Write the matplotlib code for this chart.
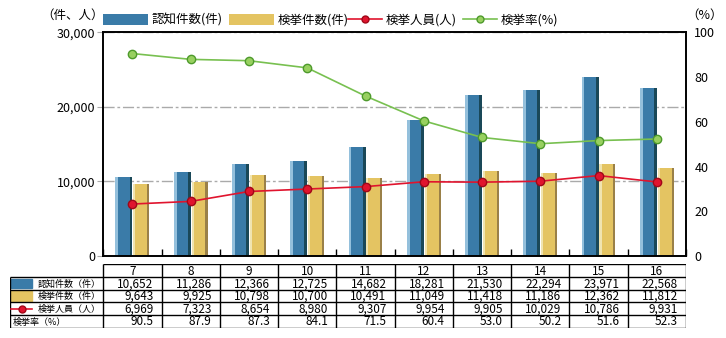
import numpy as np
import matplotlib
matplotlib.use('Agg')
import matplotlib.pyplot as plt
from matplotlib.patches import Patch, Rectangle
from matplotlib.lines import Line2D

plt.rcParams['font.family'] = ['Noto Sans CJK JP', 'DejaVu Sans']

# --- data ---
years = ['7', '8', '9', '10', '11', '12', '13', '14', '15', '16']
recognized = [10652, 11286, 12366, 12725, 14682, 18281, 21530, 22294, 23971, 22568]
cleared = [9643, 9925, 10798, 10700, 10491, 11049, 11418, 11186, 12362, 11812]
arrested = [6969, 7323, 8654, 8980, 9307, 9954, 9905, 10029, 10786, 9931]
clear_rate = [90.5, 87.9, 87.3, 84.1, 71.5, 60.4, 53.0, 50.2, 51.6, 52.3]

legend_labels = ['認知件数(件)', '検挙件数(件)', '検挙人員(人)', '検挙率(%)']
row_labels = ['認知件数（件）', '検挙件数（件）', '検挙人員（人）', '検挙率（%）']

BLUE = ('#94c0dc', '#3a7ba8', '#1a4858')
YELLOW = ('#f0e4b0', '#e4c462', '#9a8048')
RED, RED_EDGE = '#e0142e', '#a00818'
GREEN, GREEN_FACE, GREEN_EDGE = '#78c050', '#98d060', '#4e9a2c'

W, H = 726, 338
fig = plt.figure(figsize=(W / 100, H / 100), dpi=100)
ax = fig.add_axes([103.3 / W, 1 - 256 / H, (686 - 103.3) / W, (256 - 32.3) / H])
ax2 = ax.twinx()

x = np.arange(len(years)) + 0.5


def shaded_bar(axis, xc, vals, width, colors, edge):
    light, main, dark = colors
    axis.bar(xc, vals, width=width, color=main, zorder=2)
    axis.bar(xc - width / 2 + edge / 2, vals, width=edge, color=light, zorder=2.1)
    axis.bar(xc + width / 2 - edge / 2, vals, width=edge, color=dark, zorder=2.1)


shaded_bar(ax, x - 0.146, recognized, 0.292, BLUE, 0.05)
shaded_bar(ax, x + 0.152, cleared, 0.275, YELLOW, 0.036)

ax.plot(x, arrested, color=RED, lw=1.2, marker='o', ms=6, mfc=RED, mec=RED_EDGE,
        mew=1, zorder=4)
ax2.plot(x, clear_rate, color=GREEN, lw=1.2, marker='o', ms=6, mfc=GREEN_FACE,
         mec=GREEN_EDGE, mew=1, zorder=4)

# left axis
ax.set_xlim(0, len(years))
ax.set_ylim(0, 30000)
ax.set_yticks([0, 10000, 20000, 30000])
ax.set_yticklabels([f'{v:,}' for v in [0, 10000, 20000, 30000]], fontsize=9)
ax.yaxis.grid(True, color='#aaaaaa', lw=1, linestyle=(0, (8, 2, 2, 2)))
ax.set_axisbelow(True)
ax.tick_params(axis='y', length=4, color='#aaaaaa', pad=2)
ax.set_xticks(np.arange(len(years) + 1))
ax.set_xticklabels([])
ax.tick_params(axis='x', direction='in', length=5, width=1, color='black')

# right axis
ax2.set_ylim(0, 100)
ax2.set_yticks(range(0, 101, 20))
ax2.set_yticklabels([str(v) for v in range(0, 101, 20)], fontsize=9)
ax2.tick_params(axis='y', length=0, pad=6)

for a in (ax, ax2):
    for s in a.spines.values():
        s.set_linewidth(1.2)
        s.set_color('black')

fig.text(104 / W, 1 - 15 / H, '（件、人）', ha='right', va='center', fontsize=9)
fig.text(686 / W, 1 - 15 / H, '（%）', ha='left', va='center', fontsize=9)

# legend: bar swatches and line keys use different handle lengths
bar_handles = [
    Patch(facecolor=BLUE[1], edgecolor='none'),
    Patch(facecolor=YELLOW[1], edgecolor='none'),
]
line_handles = [
    Line2D([], [], color=RED, lw=1.2, marker='o', ms=5, mfc=RED, mec=RED_EDGE),
    Line2D([], [], color=GREEN, lw=1.2, marker='o', ms=5, mfc=GREEN_FACE, mec=GREEN_EDGE),
]
leg_kw = dict(loc='center left', frameon=False, fontsize=9, handleheight=1.0,
              handletextpad=0.3, columnspacing=0.5, numpoints=1, borderpad=0,
              borderaxespad=0)
fig.legend(bar_handles, legend_labels[:2], bbox_to_anchor=(103 / W, 1 - 20 / H),
           ncol=2, handlelength=3.6, **leg_kw)
fig.legend(line_handles, legend_labels[2:], bbox_to_anchor=(348 / W, 1 - 20 / H),
           ncol=2, handlelength=2.7, **leg_kw)

# data table below the chart
tax = fig.add_axes([10.3 / W, 1 - 327.7 / H, (686 - 10.3) / W, (327.7 - 264.3) / H])
lead = 93 / 58.3
n = len(years)
tax.set_xlim(-lead, n)
tax.set_ylim(5, 0)
tax.axis('off')

tax.hlines([0], 0, n, color='black', lw=1)
tax.hlines([1, 2, 3, 4, 5], -lead, n, color='black', lw=1)
tax.vlines(range(n + 1), 0, 5, color='black', lw=1)
tax.vlines([-lead], 1, 5, color='black', lw=1)

for i, yr in enumerate(years):
    tax.text(i + 0.5, 0.55, yr, ha='center', va='center', fontsize=8.5)

rows = [
    [f'{v:,}' for v in recognized],
    [f'{v:,}' for v in cleared],
    [f'{v:,}' for v in arrested],
    [f'{v:.1f}' for v in clear_rate],
]
for r, vals in enumerate(rows, start=1):
    for i, s in enumerate(vals):
        tax.text(i + 1 - 0.14, r + 0.55, s, ha='right', va='center', fontsize=8.5)

sw0, sw1 = -lead + 0.02, -lead + 0.37
tax.add_patch(Rectangle((sw0, 1.12), sw1 - sw0, 0.76, color=BLUE[1]))
tax.add_patch(Rectangle((sw0, 2.12), sw1 - sw0, 0.76, color=YELLOW[1]))
tax.plot([sw0, sw1], [3.5, 3.5], color=RED, lw=1.2)
tax.plot([(sw0 + sw1) / 2], [3.5], marker='o', ms=5, mfc=RED, mec=RED_EDGE)
for r, lab in enumerate(row_labels[:3], start=1):
    tax.text(-0.04, r + 0.55, lab, ha='right', va='center', fontsize=6.5)
tax.text(-lead + 0.04, 4.55, row_labels[3], ha='left', va='center', fontsize=6.5)

fig.savefig('out.png', dpi=100)
